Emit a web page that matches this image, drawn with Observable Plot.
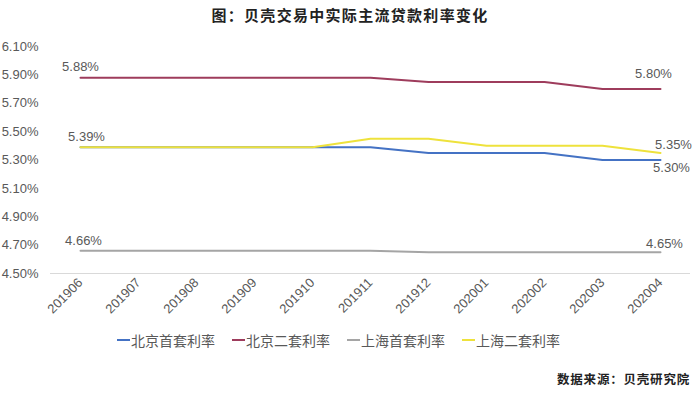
<!DOCTYPE html>
<html><head><meta charset="utf-8">
<script src="https://cdn.jsdelivr.net/npm/d3@7"></script>
<script src="https://cdn.jsdelivr.net/npm/@observablehq/plot@0.6"></script>
<style>
body{margin:0;background:#fff;font-family:"Liberation Sans","Noto Sans CJK SC",sans-serif;width:700px;height:394px;overflow:hidden;position:relative}
#title{position:absolute;top:4px;left:0;width:700px;text-align:center;font:bold 15px "Noto Sans CJK SC",sans-serif;color:#222;letter-spacing:1.3px}
#chart{position:absolute;top:30px;left:0}
#legend{position:absolute;top:330px;left:117px;display:flex;gap:17px;font:14px "Noto Sans CJK SC",sans-serif;color:#595959}
#legend span.item{display:flex;align-items:center}
#legend span.sw{display:inline-block;width:13px;height:2px;margin-right:1px}
#caption{position:absolute;top:369px;right:10px;font:bold 12.5px "Noto Sans CJK SC",sans-serif;color:#222;letter-spacing:0.8px}
</style></head>
<body>
<div id="title">图：贝壳交易中实际主流贷款利率变化</div>
<div id="chart"></div>
<div id="legend"></div>
<div id="caption">数据来源：贝壳研究院</div>
<script>
const months = ["201906","201907","201908","201909","201910","201911","201912","202001","202002","202003","202004"];
const seriesNames = ["北京首套利率","北京二套利率","上海首套利率","上海二套利率"];
const seriesColors = ["#4472c4","#9e3c5c","#a5a5a5","#eee23c"];
const bjFirst  = [5.39,5.39,5.39,5.39,5.39,5.39,5.35,5.35,5.35,5.30,5.30];
const bjSecond = [5.88,5.88,5.88,5.88,5.88,5.88,5.85,5.85,5.85,5.80,5.80];
const shFirst  = [4.66,4.66,4.66,4.66,4.66,4.66,4.65,4.65,4.65,4.65,4.65];
const shSecond = [5.39,5.39,5.39,5.39,5.39,5.45,5.45,5.40,5.40,5.40,5.35];
const yTicks = [4.5,4.7,4.9,5.1,5.3,5.5,5.7,5.9,6.1];

const allSeries = [bjFirst,bjSecond,shFirst,shSecond];
const rows = allSeries.flatMap((vals,si)=>vals.map((v,i)=>({month:months[i],value:v,series:seriesNames[si]})));
const pick = (si,i,opts)=>({month:months[i],value:allSeries[si][i],label:allSeries[si][i].toFixed(2)+"%",...opts});
const labels = [
  pick(1,0,{dx:0,dy:-11}),
  pick(3,0,{dx:6,dy:-10}),
  pick(2,0,{dx:3,dy:-10}),
  pick(1,10,{dx:-7,dy:-15}),
  pick(3,10,{dx:13,dy:-8}),
  pick(0,10,{dx:11,dy:8}),
  pick(2,10,{dx:4,dy:-8}),
];
const gray = "#595959";
const plot = Plot.plot({
  width:700, height:300,
  marginLeft:50, marginRight:10, marginTop:16, marginBottom:57,
  style:{fontFamily:'"Liberation Sans","Noto Sans CJK SC",sans-serif',fontSize:"13px",color:gray,background:"transparent"},
  x:{type:"point",domain:months,padding:0.5,label:null,tickSize:0,tickPadding:7,tickRotate:-45},
  y:{domain:[4.5,6.1],ticks:yTicks,tickFormat:d=>d.toFixed(2)+"%",label:null,tickSize:0,tickPadding:12},
  color:{domain:seriesNames,range:seriesColors},
  marks:[
    Plot.ruleY([4.5],{stroke:"#d9d9d9",strokeWidth:1}),
    Plot.line(rows,{x:"month",y:"value",z:"series",stroke:"series",strokeWidth:2}),
    ...labels.map(l=>Plot.text([l],{x:"month",y:"value",text:"label",dx:l.dx,dy:l.dy,fill:gray,fontSize:13}))
  ]
});
document.getElementById("chart").appendChild(plot);
const lg = document.getElementById("legend");
seriesNames.forEach((n,i)=>{
  const s=document.createElement("span");s.className="item";
  s.innerHTML=`<span class="sw" style="background:${seriesColors[i]}"></span>${n}`;
  lg.appendChild(s);
});
</script>
</body></html>
